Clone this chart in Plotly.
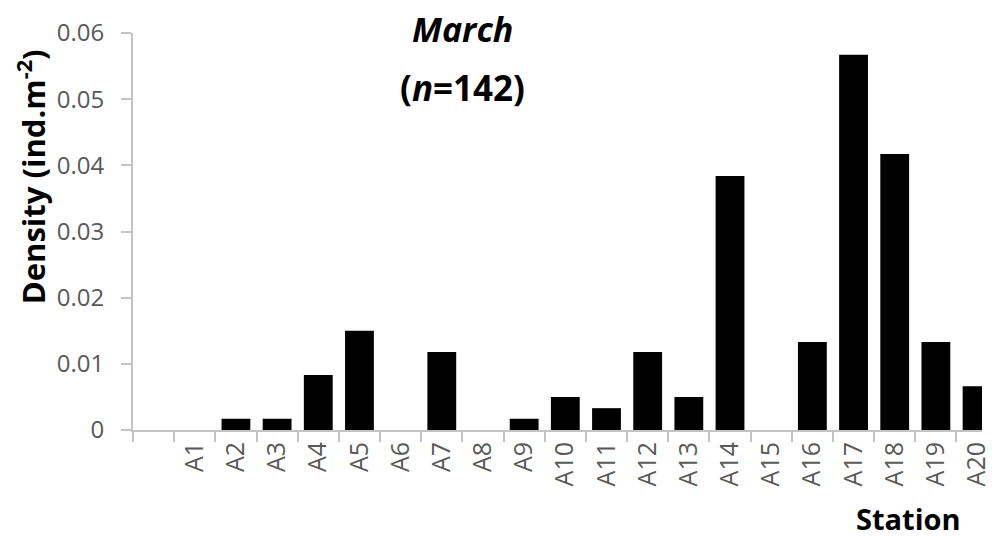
import plotly.graph_objects as go

stations = [" ", "A1", "A2", "A3", "A4", "A5", "A6", "A7", "A8", "A9", "A10",
            "A11", "A12", "A13", "A14", "A15", "A16", "A17", "A18", "A19", "A20"]
density = [None, 0, 0.0017, 0.0017, 0.0083, 0.015, 0, 0.0118, 0, 0.0017, 0.005,
           0.0033, 0.0118, 0.005, 0.0384, 0, 0.0133, 0.0567, 0.0417, 0.0133, 0.0066]
y_ticks = [0, 0.01, 0.02, 0.03, 0.04, 0.05, 0.06]
y_tick_labels = ["0", "0.01", "0.02", "0.03", "0.04", "0.05", "0.06"]

FONT = "Open Sans"
GRAY = "#595959"
AXIS = "#c4c4c4"

W, H = 992, 537
L, T, B, R = 133, 33, 107, 0

fig = go.Figure()
fig.add_trace(go.Bar(x=stations, y=density,
                     marker=dict(color="black", line=dict(width=0)), width=0.7))

fig.update_layout(
    width=W, height=H,
    margin=dict(l=L, r=R, t=T, b=B, pad=0),
    plot_bgcolor="white", paper_bgcolor="white",
    showlegend=False,
    font=dict(family=FONT, color=GRAY, size=20),
    xaxis=dict(
        type="category", range=[-0.5, 20.12],
        showline=True, linecolor=AXIS, linewidth=2,
        ticks="outside", tickson="boundaries", ticklen=10, tickcolor=AXIS, tickwidth=2,
        tickangle=-90, tickfont=dict(size=25, color=GRAY, family=FONT),
        showgrid=False, zeroline=False,
    ),
    yaxis=dict(
        range=[0, 0.06], tickvals=y_ticks, ticktext=y_tick_labels,
        showline=True, linecolor=AXIS, linewidth=2,
        ticks="outside", ticklen=10, tickcolor=AXIS, tickwidth=2,
        ticklabelstandoff=12,
        tickfont=dict(size=24, color=GRAY, family=FONT),
        showgrid=False, zeroline=False,
    ),
)

pw, ph = W - L - R, H - T - B
def px(x):  # screen x -> paper
    return (x - L) / pw
def py(y):  # screen y -> paper
    return (H - B - y) / ph

def ann(text, x, y, size, angle=0):
    fig.add_annotation(text=text, x=px(x), y=py(y), xref="paper", yref="paper",
                       xanchor="center", yanchor="middle", showarrow=False,
                       textangle=angle,
                       font=dict(size=size, color="black", family=FONT))

ann("<b><i>March</i></b>", 466, 29, 34)
ann("<b>(<i>n</i>=142)</b>", 466, 87, 35)
ann("<b>Density (ind.m<sup>-2</sup>)</b>", 30, 177, 31, -90)
ann("<b>Station</b>", 918, 518, 29)

fig.write_html("out.html", default_width=f"{W}px", default_height=f"{H}px",
               config={"displayModeBar": False},
               post_script="document.body.style.margin='0';document.body.style.overflow='hidden';")
